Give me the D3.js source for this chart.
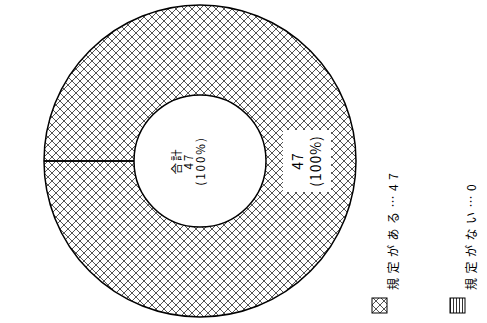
<!DOCTYPE html>
<html lang="ja">
<head>
    <meta charset="UTF-8">
    <title>規定の有無</title>
    <script src="https://d3js.org/d3.v7.min.js"></script>
    <style>
        body { margin: 0; background: #fff; }
        text { font-family: "Noto Sans CJK JP", sans-serif; fill: #000; }
    </style>
</head>
<body>
    <svg width="487" height="323"></svg>
    <script>
        // data
        const categories = ["規定がある", "規定がない"];
        const values = [47, 0];
        const totalLabel = "合計";

        const W = 487, H = 323;
        const svg = d3.select("svg");

        // patterns
        const defs = svg.append("defs");
        const cross = defs.append("pattern")
            .attr("id", "cross")
            .attr("patternUnits", "userSpaceOnUse")
            .attr("width", 8).attr("height", 8);
        cross.append("rect").attr("width", 8).attr("height", 8).attr("fill", "#fff");
        cross.append("path")
            .attr("d", "M0,0L8,8M0,8L8,0M-1,1L1,-1M7,9L9,7M-1,7L1,9M7,-1L9,1")
            .attr("stroke", "#555").attr("stroke-width", 1);
        const stripe = defs.append("pattern")
            .attr("id", "stripe")
            .attr("patternUnits", "userSpaceOnUse")
            .attr("width", 3).attr("height", 3);
        stripe.append("rect").attr("width", 3).attr("height", 3).attr("fill", "#fff");
        stripe.append("line").attr("x1", 0).attr("x2", 3).attr("y1", 0.5).attr("y2", 0.5)
            .attr("stroke", "#333").attr("stroke-width", 1);
        const fills = ["url(#cross)", "url(#stripe)"];

        // whole chart is drawn upright and then turned a quarter to the left
        const g = svg.append("g").attr("transform", `translate(0,${H}) rotate(-90)`);

        const cx = 162, cy = 200, rOuter = 156, rInner = 66;
        const total = d3.sum(values);

        const pie = d3.pie().sort(null).value(d => d)(values);
        const arc = d3.arc().innerRadius(rInner).outerRadius(rOuter);

        const chart = g.append("g").attr("transform", `translate(${cx},${cy})`);

        chart.selectAll("path.slice")
            .data(pie)
            .join("path")
            .attr("class", "slice")
            .attr("d", arc)
            .attr("fill", (d, i) => fills[i])
            .attr("stroke", "none");

        // outlines
        chart.append("circle").attr("r", rOuter).attr("fill", "none").attr("stroke", "#000").attr("stroke-width", 1.5);
        chart.append("circle").attr("r", rInner).attr("fill", "#fff").attr("stroke", "#000").attr("stroke-width", 1.5);
        chart.selectAll("line.sep")
            .data(pie)
            .join("line")
            .attr("class", "sep")
            .attr("x1", d => rInner * Math.sin(d.startAngle))
            .attr("y1", d => -rInner * Math.cos(d.startAngle))
            .attr("x2", d => rOuter * Math.sin(d.startAngle))
            .attr("y2", d => -rOuter * Math.cos(d.startAngle))
            .attr("stroke", "#000").attr("stroke-width", 1.5);

        // centre label
        const centre = chart.append("text")
            .attr("text-anchor", "middle")
            .style("font-size", "11.5px")
            .style("letter-spacing", "2px");
        [totalLabel, String(total), "(100%)"].forEach((t, i) => {
            centre.append("tspan").attr("x", 0).attr("y", -19 + i * 12).text(t);
        });

        // slice labels
        const rLabel = 107;
        pie.filter(d => d.value > 0).forEach(d => {
            const full = d.endAngle - d.startAngle >= 2 * Math.PI - 1e-6;
            const a = full ? Math.PI : (d.startAngle + d.endAngle) / 2;
            const lx = rLabel * Math.sin(a), ly = -rLabel * Math.cos(a);
            const lg = chart.append("g").attr("transform", `translate(${lx},${ly})`);
            lg.append("rect").attr("x", -31).attr("y", -24).attr("width", 62).attr("height", 48).attr("fill", "#fff");
            const t = lg.append("text").attr("text-anchor", "middle")
                .style("font-size", "14px").style("letter-spacing", "1px");
            t.append("tspan").attr("x", 0).attr("y", -4).text(String(d.value));
            t.append("tspan").attr("x", 0).attr("y", 14).text("(" + Math.round(d.value / total * 100) + "%)");
        });

        // legend
        const legend = g.append("g").attr("transform", "translate(10,0)");
        const item = legend.selectAll("g")
            .data(categories)
            .join("g")
            .attr("transform", (d, i) => `translate(0,${372 + i * 78})`);
        item.append("rect")
            .attr("width", 15).attr("height", 15)
            .attr("fill", (d, i) => fills[i])
            .attr("stroke", "#000").attr("stroke-width", 1);
        item.append("text")
            .attr("x", 23).attr("y", 26)
            .style("font-size", "12px")
            .style("letter-spacing", "4.5px")
            .text((d, i) => d + "…" + values[i]);
    </script>
</body>
</html>
